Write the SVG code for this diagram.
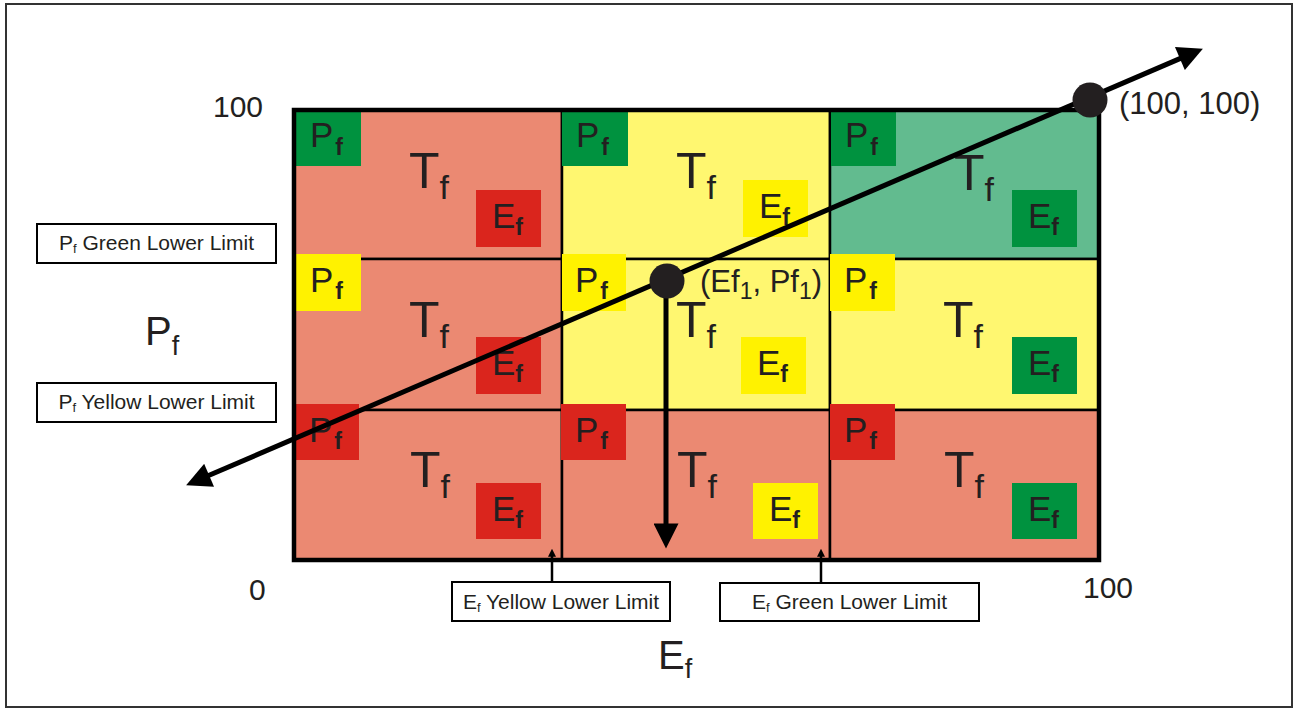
<svg xmlns="http://www.w3.org/2000/svg" width="1294" height="709" viewBox="0 0 1294 709">
<defs>
<style>
text{font-family:"Liberation Sans",Arial,sans-serif;fill:#231f20}
.cell{stroke:#000;stroke-width:2.5}
.sal{fill:#eb8972}.ly{fill:#fff770}.tl{fill:#62bb8f}
.g{fill:#00923f}.r{fill:#da251d}.y{fill:#fff200}
.T{font-size:50px}.Ts{font-size:34px}
.L{font-size:35px}.Ls{font-size:23px;font-weight:bold}
.num{font-size:30px}
.ax{font-size:40px}.axs{font-size:27px}
.lb{font-size:21px;text-anchor:middle}.lbs{font-size:13px}
.box{fill:#fff;stroke:#000;stroke-width:2}
.conn{stroke:#000;fill:none}
</style>
<marker id="big" viewBox="0 0 10 10" refX="1" refY="5" markerUnits="userSpaceOnUse" markerWidth="27" markerHeight="25" orient="auto-start-reverse"><path d="M0,0 L10,5 L0,10 z" fill="#000"/></marker>
<marker id="small" viewBox="0 0 10 10" refX="1" refY="5" markerUnits="userSpaceOnUse" markerWidth="8" markerHeight="8" orient="auto"><path d="M0,0 L10,5 L0,10 z" fill="#000"/></marker>
</defs>
<rect x="6" y="4" width="1286" height="703" fill="#fff" stroke="#333" stroke-width="2"/>

<g id="cell-r0c0"><rect class="cell sal" x="294" y="110" width="268" height="149"/>
<rect class="g" x="296" y="109" width="65" height="57"/><text class="L" x="310" y="147">P<tspan class="Ls" dx="2" dy="8">f</tspan></text>
<text class="T" x="409" y="188">T<tspan class="Ts" dy="11">f</tspan></text>
<rect class="r" x="476" y="190" width="65" height="57"/><text class="L" x="492" y="228">E<tspan class="Ls" dy="7">f</tspan></text></g>

<g id="cell-r0c1"><rect class="cell ly" x="562" y="110" width="268" height="149"/>
<rect class="g" x="562" y="109" width="66" height="57"/><text class="L" x="576" y="147">P<tspan class="Ls" dx="2" dy="8">f</tspan></text>
<text class="T" x="676" y="188">T<tspan class="Ts" dy="11">f</tspan></text>
<rect class="y" x="743" y="180" width="65" height="57"/><text class="L" x="759" y="218">E<tspan class="Ls" dy="7">f</tspan></text></g>

<g id="cell-r0c2"><rect class="cell tl" x="830" y="110" width="269" height="149"/>
<rect class="g" x="831" y="109" width="65" height="57"/><text class="L" x="845" y="147">P<tspan class="Ls" dx="2" dy="8">f</tspan></text>
<text class="T" x="954" y="190">T<tspan class="Ts" dy="11">f</tspan></text>
<rect class="g" x="1012" y="190" width="65" height="57"/><text class="L" x="1028" y="228">E<tspan class="Ls" dy="7">f</tspan></text></g>

<g id="cell-r1c0"><rect class="cell sal" x="294" y="259" width="268" height="151"/>
<rect class="y" x="296" y="254" width="65" height="57"/><text class="L" x="310" y="292">P<tspan class="Ls" dx="2" dy="7">f</tspan></text>
<text class="T" x="409" y="337">T<tspan class="Ts" dy="11">f</tspan></text>
<rect class="r" x="476" y="337" width="65" height="57"/><text class="L" x="492" y="375">E<tspan class="Ls" dy="7">f</tspan></text></g>

<g id="cell-r1c1"><rect class="cell ly" x="562" y="259" width="268" height="151"/>
<rect class="y" x="562" y="254" width="64" height="57"/><text class="L" x="575" y="292">P<tspan class="Ls" dx="2" dy="7">f</tspan></text>
<text class="T" x="676" y="337">T<tspan class="Ts" dy="11">f</tspan></text>
<rect class="y" x="741" y="337" width="65" height="57"/><text class="L" x="757" y="375">E<tspan class="Ls" dy="7">f</tspan></text></g>

<g id="cell-r1c2"><rect class="cell ly" x="830" y="259" width="269" height="151"/>
<rect class="y" x="830" y="254" width="65" height="57"/><text class="L" x="844" y="292">P<tspan class="Ls" dx="2" dy="7">f</tspan></text>
<text class="T" x="943" y="337">T<tspan class="Ts" dy="11">f</tspan></text>
<rect class="g" x="1012" y="337" width="65" height="57"/><text class="L" x="1028" y="375">E<tspan class="Ls" dy="7">f</tspan></text></g>

<g id="cell-r2c0"><rect class="cell sal" x="294" y="410" width="268" height="150"/>
<rect class="r" x="294" y="404" width="65" height="56"/><text class="L" x="309" y="442">P<tspan class="Ls" dx="2" dy="7">f</tspan></text>
<text class="T" x="410" y="487">T<tspan class="Ts" dy="11">f</tspan></text>
<rect class="r" x="476" y="483" width="65" height="56"/><text class="L" x="492" y="521">E<tspan class="Ls" dy="7">f</tspan></text></g>

<g id="cell-r2c1"><rect class="cell sal" x="562" y="410" width="268" height="150"/>
<rect class="r" x="561" y="404" width="65" height="56"/><text class="L" x="575" y="442">P<tspan class="Ls" dx="2" dy="7">f</tspan></text>
<text class="T" x="677" y="487">T<tspan class="Ts" dy="11">f</tspan></text>
<rect class="y" x="753" y="483" width="65" height="56"/><text class="L" x="769" y="521">E<tspan class="Ls" dy="7">f</tspan></text></g>

<g id="cell-r2c2"><rect class="cell sal" x="830" y="410" width="269" height="150"/>
<rect class="r" x="830" y="404" width="65" height="56"/><text class="L" x="844" y="442">P<tspan class="Ls" dx="2" dy="7">f</tspan></text>
<text class="T" x="944" y="487">T<tspan class="Ts" dy="11">f</tspan></text>
<rect class="g" x="1012" y="483" width="65" height="56"/><text class="L" x="1028" y="521">E<tspan class="Ls" dy="7">f</tspan></text></g>

<rect id="grid-border" x="294" y="110" width="805" height="450" fill="none" stroke="#000" stroke-width="4.5"/>

<g id="axis-labels">
<text class="num" x="213" y="117">100</text>
<text class="num" x="249" y="600">0</text>
<text class="num" x="1083" y="598">100</text>
<text class="ax" x="145" y="345">P<tspan class="axs" dy="10">f</tspan></text>
<text class="ax" x="658" y="669">E<tspan class="axs" dy="9">f</tspan></text>
</g>

<g id="label-pf-green"><rect class="box" x="37" y="224" width="239" height="39"/><text class="lb" x="156.5" y="250">P<tspan class="lbs" dy="3">f</tspan><tspan dy="-3"> Green Lower Limit</tspan></text></g>
<g id="label-pf-yellow"><rect class="box" x="37" y="383" width="239" height="39"/><text class="lb" x="156.5" y="409">P<tspan class="lbs" dy="3">f</tspan><tspan dy="-3"> Yellow Lower Limit</tspan></text></g>
<g id="label-ef-yellow"><rect class="box" x="452" y="582" width="218" height="39"/><text class="lb" x="561" y="609">E<tspan class="lbs" dy="3">f</tspan><tspan dy="-3"> Yellow Lower Limit</tspan></text></g>
<g id="label-ef-green"><rect class="box" x="720" y="583" width="259" height="38"/><text class="lb" x="849.5" y="609">E<tspan class="lbs" dy="3">f</tspan><tspan dy="-3"> Green Lower Limit</tspan></text></g>

<g id="connectors">
<line class="conn" x1="206.8" y1="476.3" x2="1182.2" y2="57.6" stroke-width="5" marker-start="url(#big)" marker-end="url(#big)"/>
<line class="conn" x1="666" y1="281" x2="666" y2="526" stroke-width="5" marker-end="url(#big)"/>
<line class="conn" x1="552" y1="582" x2="552" y2="556" stroke-width="2.5" marker-end="url(#small)"/>
<line class="conn" x1="821" y1="583" x2="821" y2="556" stroke-width="2.5" marker-end="url(#small)"/>
</g>

<g id="point-100">
<circle cx="1090" cy="100" r="17.5" fill="#231f20"/>
<text class="num" x="1119" y="114" style="font-size:31px">(100, 100)</text>
</g>
<g id="point-ef1">
<circle cx="667" cy="281" r="17.5" fill="#231f20"/>
<text x="700" y="292" style="font-size:31px">(Ef<tspan dy="7" style="font-size:23px">1</tspan><tspan dy="-7">, Pf</tspan><tspan dy="7" style="font-size:23px">1</tspan><tspan dy="-7">)</tspan></text>
</g>
</svg>
